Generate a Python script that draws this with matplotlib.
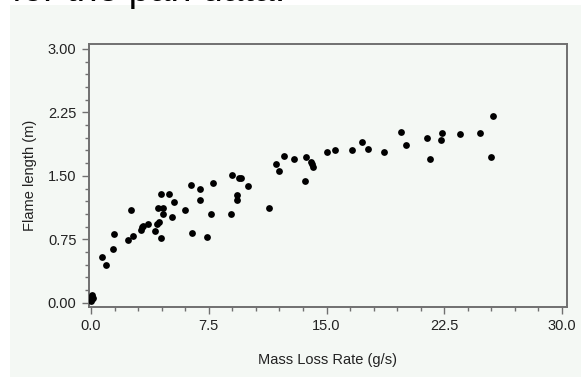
import matplotlib.pyplot as plt
from matplotlib.patches import Rectangle
from matplotlib.ticker import MultipleLocator, FixedLocator

# data
mass_loss = [0.02, 0.05, 0.03, 0.08, 0.10,
             0.70, 0.94, 1.40, 1.45, 2.37, 2.53, 2.65, 3.18, 3.25, 3.32,
             3.65, 4.08, 4.18, 4.33, 4.46, 4.27, 4.57, 4.46, 4.95, 4.57,
             5.14, 5.27, 5.96, 6.35, 6.41, 6.94, 6.96, 7.39, 7.66, 7.75,
             8.92, 8.98, 9.30, 9.32, 9.45, 9.53, 10.0, 11.34, 11.80, 12.0,
             12.27, 12.91, 13.63, 13.71, 14.01, 14.10, 14.16, 15.03, 15.52,
             16.62, 17.24, 17.64, 18.64, 19.75, 20.04, 21.42, 21.62, 22.27,
             22.36, 23.50, 24.75, 25.58, 25.48]
flame_len = [0.02, 0.04, 0.07, 0.09, 0.05,
             0.54, 0.45, 0.64, 0.81, 0.74, 1.10, 0.79, 0.86, 0.90, 0.91,
             0.93, 0.85, 0.93, 0.95, 0.76, 1.12, 1.12, 1.29, 1.29, 1.05,
             1.01, 1.19, 1.10, 1.39, 0.83, 1.35, 1.21, 0.78, 1.05, 1.41,
             1.05, 1.51, 1.27, 1.21, 1.47, 1.47, 1.38, 1.12, 1.64, 1.56,
             1.74, 1.70, 1.44, 1.72, 1.66, 1.64, 1.61, 1.78, 1.80,
             1.80, 1.90, 1.82, 1.78, 2.02, 1.87, 1.95, 1.70, 1.92,
             2.01, 2.00, 2.01, 2.21, 1.72]

x_ticks = [0.0, 7.5, 15.0, 22.5, 30.0]
x_labels = ['0.0', '7.5', '15.0', '22.5', '30.0']
y_ticks = [0.0, 0.75, 1.5, 2.25, 3.0]
y_labels = ['0.00', '0.75', '1.50', '2.25', '3.00']

plt.rcParams['font.family'] = ['Liberation Sans', 'DejaVu Sans']
bg = '#f4f8f4'
fig = plt.figure(figsize=(5.81, 3.81), dpi=100, facecolor='white')

# light panel behind the chart
fig.patches.append(Rectangle((10 / 581, 4 / 381), 571 / 581, 372 / 381,
                             transform=fig.transFigure, facecolor=bg,
                             edgecolor='none', zorder=-5))
# leftover caption line cut off at the top
fig.text(12 / 581, 1 - 1 / 381, 'for the pan data.', fontsize=27,
         va='baseline', ha='left', color='black')

ax = fig.add_axes([89 / 581, 1 - 306.7 / 381, 478 / 581, 262.7 / 381])
ax.set_facecolor(bg)
ax.scatter(mass_loss, flame_len, s=24, color='black', zorder=3, linewidths=0)

ax.set_xlim(-0.13, 30.32)
ax.set_ylim(-0.047, 3.058)
ax.xaxis.set_major_locator(FixedLocator(x_ticks))
ax.set_xticklabels(x_labels)
ax.yaxis.set_major_locator(FixedLocator(y_ticks))
ax.set_yticklabels(y_labels)
ax.xaxis.set_minor_locator(MultipleLocator(1.5))
ax.yaxis.set_minor_locator(MultipleLocator(0.15))

for s in ax.spines.values():
    s.set_color('#707070')
    s.set_linewidth(1.4)
ax.tick_params(which='major', length=5, width=1, color='#707070',
               labelsize=10.5, labelcolor='#222222', pad=4)
ax.tick_params(which='minor', length=3, width=1, color='#707070')

ax.set_xlabel('Mass Loss Rate (g/s)', fontsize=10.5, color='#222222', labelpad=14)
ax.set_ylabel('Flame length (m)', fontsize=10.5, color='#222222', labelpad=8)

fig.savefig('out.png', dpi=100, facecolor='white')
